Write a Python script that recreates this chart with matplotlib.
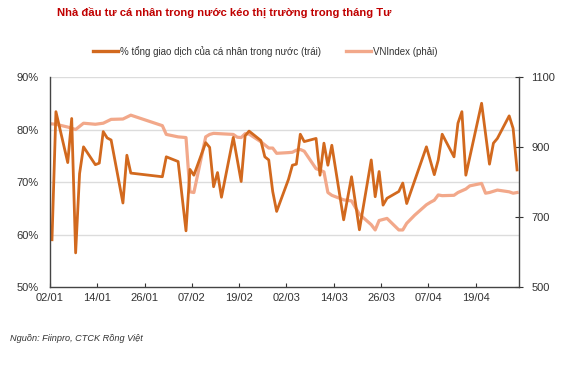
import numpy as np
import pandas as pd
import matplotlib.pyplot as plt
import matplotlib.dates as mdates
from matplotlib.ticker import FuncFormatter, FixedLocator

plt.rcParams.update({
    "font.family": ["Liberation Sans Narrow", "Liberation Sans", "DejaVu Sans"],
    "font.size": 8,
    "axes.linewidth": 1.0,
})

ORANGE = "#D2691E"
SALMON = "#F2A88A"
TEXT = "#333333"
GRID = "#DCDCDC"

# % tong giao dich cua ca nhan trong nuoc (left axis)
retail_dates = [
    "2020-01-02", "2020-01-03", "2020-01-06", "2020-01-07", "2020-01-08", "2020-01-09",
    "2020-01-10", "2020-01-13", "2020-01-14", "2020-01-15", "2020-01-16", "2020-01-17",
    "2020-01-20", "2020-01-21", "2020-01-22", "2020-01-30", "2020-01-31", "2020-02-03",
    "2020-02-05", "2020-02-06", "2020-02-07", "2020-02-10", "2020-02-11", "2020-02-12",
    "2020-02-13", "2020-02-14", "2020-02-17", "2020-02-19", "2020-02-20", "2020-02-21",
    "2020-02-24", "2020-02-25", "2020-02-26", "2020-02-27", "2020-02-28", "2020-03-02",
    "2020-03-03", "2020-03-04", "2020-03-05", "2020-03-06", "2020-03-09", "2020-03-10",
    "2020-03-11", "2020-03-12", "2020-03-13", "2020-03-16", "2020-03-18", "2020-03-20",
    "2020-03-23", "2020-03-24", "2020-03-25", "2020-03-26", "2020-03-27", "2020-03-30",
    "2020-03-31", "2020-04-01", "2020-04-06", "2020-04-08", "2020-04-09", "2020-04-10",
    "2020-04-13", "2020-04-14", "2020-04-15", "2020-04-16", "2020-04-20", "2020-04-22",
    "2020-04-23", "2020-04-24", "2020-04-27", "2020-04-28", "2020-04-29",
]
retail_pct = [
    59.0, 83.4, 73.7, 82.1, 56.5, 71.6,
    76.7, 73.3, 73.6, 79.6, 78.4, 78.0,
    66.0, 75.1, 71.7, 71.0, 74.8, 73.9,
    60.7, 72.4, 71.3, 77.5, 76.6, 69.1,
    71.8, 67.1, 78.5, 70.1, 78.8, 79.7,
    77.9, 74.8, 74.2, 68.2, 64.4, 70.5,
    73.2, 73.4, 79.1, 77.7, 78.3, 71.3,
    77.4, 73.2, 77.0, 62.8, 71.0, 60.9,
    74.2, 67.2, 72.0, 65.6, 66.9, 68.2,
    69.8, 65.9, 76.7, 71.4, 74.2, 79.1,
    74.8, 81.2, 83.4, 71.3, 85.0, 73.4,
    77.4, 78.3, 82.6, 80.2, 72.3,
]

# VNIndex (right axis)
vni_dates = [
    "2020-01-02", "2020-01-03", "2020-01-06", "2020-01-08", "2020-01-10", "2020-01-13",
    "2020-01-15", "2020-01-17", "2020-01-20", "2020-01-22", "2020-01-30", "2020-01-31",
    "2020-02-03", "2020-02-05", "2020-02-06", "2020-02-07", "2020-02-10", "2020-02-11",
    "2020-02-12", "2020-02-17", "2020-02-18", "2020-02-19", "2020-02-20", "2020-02-21",
    "2020-02-24", "2020-02-25", "2020-02-26", "2020-02-27", "2020-02-28", "2020-03-02",
    "2020-03-03", "2020-03-04", "2020-03-05", "2020-03-06", "2020-03-09", "2020-03-10",
    "2020-03-11", "2020-03-12", "2020-03-13", "2020-03-16", "2020-03-18", "2020-03-20",
    "2020-03-23", "2020-03-24", "2020-03-25", "2020-03-27", "2020-03-30", "2020-03-31",
    "2020-04-01", "2020-04-03", "2020-04-06", "2020-04-07", "2020-04-08", "2020-04-09",
    "2020-04-10", "2020-04-13", "2020-04-14", "2020-04-16", "2020-04-17", "2020-04-20",
    "2020-04-21", "2020-04-22", "2020-04-24", "2020-04-27", "2020-04-28", "2020-04-29",
]
vni_close = [
    966, 965, 957, 950, 968, 965,
    968, 979, 980, 991, 961, 936,
    929, 927, 772, 770, 929, 936,
    939, 936, 928, 927, 938, 937,
    915, 906, 897, 897, 882, 884,
    885, 891, 893, 888, 838, 834,
    829, 770, 762, 749, 746, 708,
    678, 663, 690, 696, 663, 663,
    682, 705, 735, 742, 748, 763,
    761, 762, 770, 780, 789, 796,
    768, 770, 777, 772, 768, 770,
]

date_ticks = ["2020-01-02", "2020-01-14", "2020-01-26", "2020-02-07", "2020-02-19",
              "2020-03-02", "2020-03-14", "2020-03-26", "2020-04-07", "2020-04-19"]

# points sit in the middle of each day slot
x_retail = pd.to_datetime(retail_dates) + pd.Timedelta(hours=12)
x_vni = pd.to_datetime(vni_dates) + pd.Timedelta(hours=12)

fig = plt.figure(figsize=(5.69, 3.88), dpi=100)
ax = fig.add_axes([0.0879, 0.2603, 0.8243, 0.5412])
ax2 = ax.twinx()

ax.set_zorder(ax2.get_zorder() + 1)
ax.patch.set_visible(False)

ax2.plot(x_vni, vni_close, color=SALMON, lw=2.3, solid_joinstyle="round")
ax.plot(x_retail, retail_pct, color=ORANGE, lw=2.0, solid_joinstyle="round")

ax.set_ylim(50, 90)
ax.set_yticks([50, 60, 70, 80, 90])
ax.yaxis.set_major_formatter(FuncFormatter(lambda v, p: f"{v:.0f}%"))
ax2.set_ylim(500, 1100)
ax2.set_yticks([500, 700, 900, 1100])

ax.set_xlim(pd.Timestamp("2020-01-02"), pd.Timestamp("2020-04-30"))
ax.xaxis.set_major_locator(FixedLocator(mdates.date2num(pd.to_datetime(date_ticks))))
ax.xaxis.set_major_formatter(mdates.DateFormatter("%d/%m"))

for y in [60, 70, 80, 90]:
    ax2.axhline(500 + (y - 50) * 15, color=GRID, lw=1.0, zorder=0)

for a in (ax, ax2):
    a.spines["top"].set_visible(False)
ax.spines["right"].set_visible(False)
ax.spines["left"].set_color("#444444")
ax.spines["bottom"].set_color("#444444")
ax2.spines["left"].set_visible(False)
ax2.spines["bottom"].set_visible(False)
ax2.spines["right"].set_color("#444444")

ax.tick_params(axis="y", length=0, pad=8, labelsize=8, colors=TEXT)
ax.tick_params(axis="x", direction="in", length=3, width=0.8, pad=4, labelsize=8,
               colors=TEXT)
ax2.tick_params(axis="y", direction="inout", length=6, width=0.8, pad=6, labelsize=8,
                colors=TEXT)

fig.text(0.1, 0.968, "Nhà đầu tư cá nhân trong nước kéo thị trường trong tháng Tư",
         color="#C00000", fontsize=8.1, fontweight="bold", ha="left", va="center")

handles = [
    plt.Line2D([], [], color=ORANGE, lw=2.4),
    plt.Line2D([], [], color=SALMON, lw=2.4),
]
fig.legend(handles, ["% tổng giao dịch của cá nhân trong nước (trái)", "VNIndex (phải)"],
           loc="center", bbox_to_anchor=(0.466, 0.868), ncol=2, frameon=False,
           fontsize=7.0, handlelength=2.6, handletextpad=0.2, columnspacing=2.6,
           labelcolor=TEXT)

fig.text(0.018, 0.128, "Nguồn: Fiinpro, CTCK Rồng Việt", fontsize=6.6, style="italic",
         color=TEXT, ha="left", va="center")

fig.savefig("out.png", dpi=100, facecolor="white")
